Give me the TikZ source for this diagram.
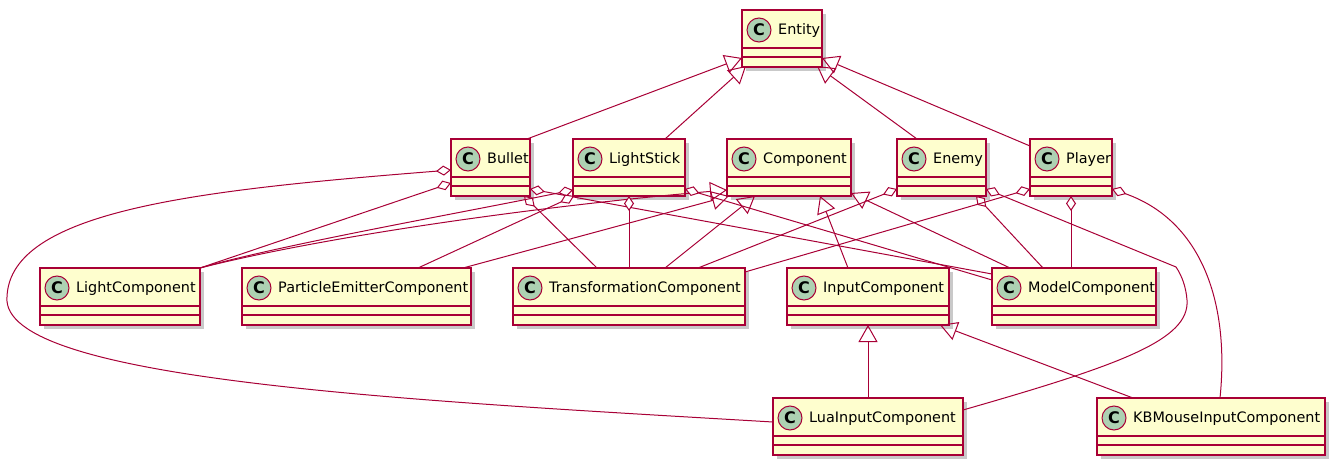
\documentclass[tikz,border=0pt]{standalone}
\usepackage{fontspec}
\setmainfont{DejaVu Sans}
\usetikzlibrary{arrows.meta,shadows,calc}
\definecolor{umlred}{HTML}{A80036}
\definecolor{umlfill}{HTML}{FEFECE}
\definecolor{umlcirc}{HTML}{ADD1B2}
\tikzset{
  clsbox/.style={draw=umlred, fill=umlfill, line width=1.5pt, inner sep=0pt, outer sep=0pt,
    anchor=north west, minimum height=57pt,
    drop shadow={shadow xshift=4pt, shadow yshift=-4pt, opacity=0.3, fill=black!70}},
  sepline/.style={draw=umlred, line width=1.5pt},
  circ/.style={circle, draw=umlred, fill=umlcirc, line width=1pt, minimum size=24pt, inner sep=0pt,
    font=\fontsize{16}{16}\selectfont\bfseries},
  lbl/.style={anchor=base west, inner sep=0pt, font=\fontsize{14.4}{16}\selectfont},
  conn/.style={draw=umlred, line width=1pt},
  ext/.style={conn, -{Triangle[open, length=17pt, width=19pt]}},
  agg/.style={conn, -{Diamond[fill=white, length=15pt, width=10pt]}},
}
\newcommand\umlclass[5]{%
  \node[clsbox, minimum width=#4pt] (#1) at (#2,#3) {};
  \draw[sepline] ($(#1.north west)+(0,38)$) -- ($(#1.north east)+(0,38)$);
  \draw[sepline] ($(#1.north west)+(0,47)$) -- ($(#1.north east)+(0,47)$);
  \node[circ] (#1c) at ($(#1.north west)+(17,20)$) {C};
  \node[lbl] (#1t) at ($(#1.north west)+(36,24.5)$) {#5};
}
\newcommand\rp[3]{($(#1.north west)+(#2,#3)$)}
\begin{document}
\begin{tikzpicture}[x=1pt,y=-1pt]
\useasboundingbox (0,0) rectangle (1336,468);
\umlclass{entity}{742}{10}{80}{Entity}
\umlclass{bullet}{451}{139}{79}{Bullet}
\umlclass{lstick}{573}{139}{112}{LightStick}
\umlclass{comp}{727}{139}{124}{Component}
\umlclass{enemy}{897}{139}{89}{Enemy}
\umlclass{player}{1030}{139}{82}{Player}
\umlclass{lightc}{40}{268}{160}{LightComponent}
\umlclass{partc}{242}{268}{229}{ParticleEmitterComponent}
\umlclass{transc}{513}{268}{232}{TransformationComponent}
\umlclass{inputc}{787}{268}{162}{InputComponent}
\umlclass{modelc}{992}{268}{164}{ModelComponent}
\umlclass{luac}{773}{398}{190}{LuaInputComponent}
\umlclass{kbc}{1097}{398}{228}{KBMouseInputComponent}
% inheritance
\draw[ext] \rp{bullet}{76}{0} -- \rp{entity}{0}{48};
\draw[ext] \rp{lstick}{92}{0} -- \rp{entity}{4}{56};
\draw[ext] \rp{enemy}{20}{0} -- \rp{entity}{75}{56};
\draw[ext] \rp{player}{0}{7} -- \rp{entity}{80}{48};
\draw[ext] \rp{lightc}{160}{0} .. controls (330,235) and (550,205) .. \rp{comp}{0}{51};
\draw[ext] \rp{partc}{221}{0} -- \rp{comp}{2}{57};
\draw[ext] \rp{transc}{152}{0} -- \rp{comp}{28}{57};
\draw[ext] \rp{inputc}{61}{0} -- \rp{comp}{93}{57};
\draw[ext] \rp{modelc}{18}{0} -- \rp{comp}{124}{54};
\draw[ext] \rp{luac}{95}{0} -- \rp{inputc}{81}{57};
\draw[ext] \rp{kbc}{36}{0} -- \rp{inputc}{153}{57};
% aggregation
\draw[agg] \rp{lightc}{160}{0} -- \rp{bullet}{0}{44};
\draw[agg] \rp{transc}{84}{0} -- \rp{bullet}{73}{57};
\draw[agg] \rp{modelc}{0}{6} -- \rp{bullet}{79}{50};
\draw[agg] \rp{luac}{0}{24} .. controls (400,400) and (0,380) .. (7,297)
   .. controls (10,210) and (200,190) .. \rp{bullet}{0}{31};
\draw[agg] \rp{lightc}{160}{0} .. controls (280,245) and (450,215) .. \rp{lstick}{0}{51};
\draw[agg] \rp{partc}{176}{0} -- \rp{lstick}{1}{57};
\draw[agg] \rp{transc}{116}{0} -- \rp{lstick}{56}{57};
\draw[agg] \rp{modelc}{0}{12} -- \rp{lstick}{112}{50};
\draw[agg] \rp{transc}{185}{0} -- \rp{enemy}{0}{50};
\draw[agg] \rp{modelc}{51}{0} -- \rp{enemy}{79}{57};
\draw[agg] \rp{luac}{190}{12} .. controls (1120,365) and (1190,340) .. (1187,300)
   .. controls (1186,287) and (1182,276) .. (1176,267) -- \rp{enemy}{89}{50};
\draw[agg] \rp{transc}{232}{4} -- \rp{player}{0}{50};
\draw[agg] \rp{modelc}{79}{0} -- \rp{player}{41}{57};
\draw[agg] \rp{kbc}{123}{0} .. controls (1230,300) and (1200,220) .. \rp{player}{82}{50};
\end{tikzpicture}
\end{document}
